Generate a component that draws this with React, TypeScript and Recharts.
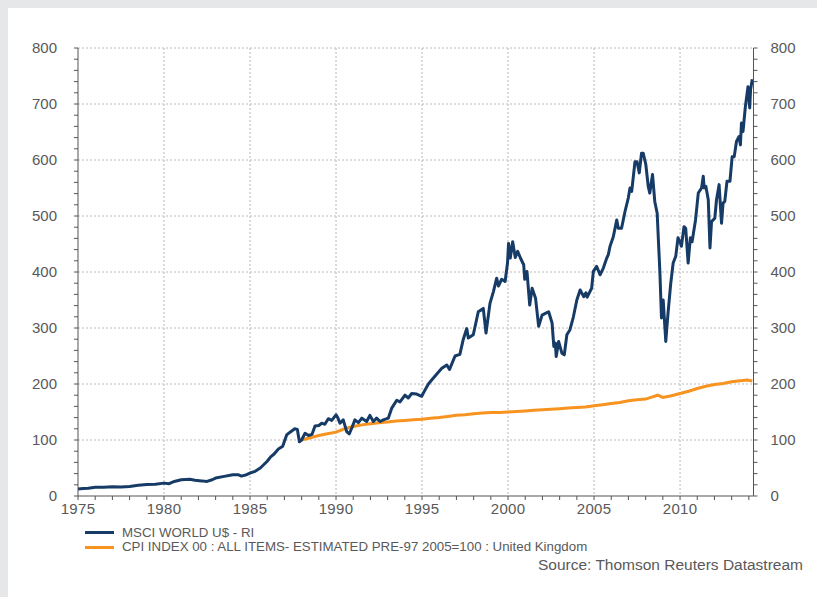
import React from 'react';
import { LineChart, Line, XAxis, YAxis, CartesianGrid } from 'recharts';

const msciYears = [
  1975.0, 1975.3, 1975.6, 1976.0, 1976.5, 1977.0, 1977.5, 1978.0, 1978.5, 1979.0, 1979.5,
  1980.0, 1980.3, 1980.6, 1981.0, 1981.5, 1981.8, 1982.2, 1982.5, 1982.8, 1983.0, 1983.5,
  1984.0, 1984.3, 1984.5, 1984.8, 1985.0, 1985.3, 1985.6, 1986.0, 1986.2, 1986.4, 1986.65,
  1986.9, 1987.13, 1987.33, 1987.6, 1987.75, 1987.87, 1988.0, 1988.2, 1988.4, 1988.6, 1988.78,
  1989.0, 1989.17, 1989.35, 1989.55, 1989.75, 1990.0, 1990.1, 1990.23, 1990.42, 1990.62,
  1990.77, 1990.91, 1991.1, 1991.3, 1991.5, 1991.78, 1991.97, 1992.17, 1992.36, 1992.56,
  1992.75, 1993.04, 1993.24, 1993.53, 1993.72, 1994.01, 1994.2, 1994.4, 1994.69, 1994.98,
  1995.17, 1995.37, 1995.56, 1995.86, 1996.15, 1996.44, 1996.6, 1996.92, 1997.2, 1997.4,
  1997.6, 1997.69, 1997.98, 1998.27, 1998.56, 1998.72, 1998.95, 1999.15, 1999.34, 1999.44,
  1999.63, 1999.83, 1999.97, 2000.03, 2000.13, 2000.27, 2000.42, 2000.56, 2000.72, 2000.91,
  2000.97, 2001.1, 2001.26, 2001.4, 2001.6, 2001.78, 2001.98, 2002.17, 2002.36, 2002.56,
  2002.66, 2002.75, 2002.8, 2002.94, 2003.13, 2003.27, 2003.42, 2003.6, 2003.8, 2004.0,
  2004.19, 2004.4, 2004.53, 2004.6, 2004.86, 2004.96, 2005.15, 2005.35, 2005.54, 2005.74,
  2005.83, 2005.93, 2006.12, 2006.32, 2006.41, 2006.6, 2006.8, 2006.99, 2007.09, 2007.19,
  2007.38, 2007.5, 2007.63, 2007.76, 2007.86, 2008.01, 2008.15, 2008.24, 2008.4, 2008.53,
  2008.67, 2008.83, 2008.92, 2009.02, 2009.17, 2009.3, 2009.46, 2009.6, 2009.75, 2009.88,
  2010.0, 2010.08, 2010.23, 2010.33, 2010.47, 2010.6, 2010.7, 2010.9, 2011.06, 2011.25,
  2011.35, 2011.4, 2011.5, 2011.64, 2011.74, 2011.83, 2012.02, 2012.12, 2012.27, 2012.41,
  2012.5, 2012.6, 2012.73, 2012.9, 2013.03, 2013.15, 2013.28, 2013.43, 2013.51, 2013.57,
  2013.66, 2013.8, 2013.95, 2014.05, 2014.1, 2014.2,
];

const msciValues = [
  12.5, 13.5, 14, 15.5, 15.5, 16.5, 16, 17, 19, 20.5, 21,
  23, 22, 26, 29, 30, 28, 27, 26, 29, 32, 35,
  38, 38, 35.5, 38, 41, 44, 50, 62, 70, 75, 84,
  89, 109, 114, 120, 119, 97, 100, 112, 108, 110, 125,
  126, 130, 128, 138, 135, 145, 140, 130, 136, 115,
  111, 121, 136, 131, 139, 133, 144, 133, 139, 133,
  136, 139, 157, 171, 168, 180, 175, 183, 182, 178,
  189, 200, 207, 218, 228, 234, 226, 250, 253, 280,
  299, 282, 288, 329, 335, 291, 344, 365, 389, 375,
  387, 383, 416, 451, 425, 454, 426, 437, 425, 413,
  387, 401, 341, 371, 353, 303, 323, 326, 329, 309,
  267, 273, 249, 276, 255, 252, 288, 297, 320, 350,
  368, 356, 363, 355, 371, 401, 410, 395, 407, 425,
  431, 446, 463, 493, 478, 478, 508, 532, 550, 544,
  597, 597, 577, 612, 612, 592, 553, 541, 574, 526,
  505, 398, 318, 350, 276, 326, 380, 416, 428, 461,
  454, 446, 481, 478, 416, 461, 454, 493, 541, 550,
  571, 550, 553, 529, 443, 490, 496, 529, 556, 487,
  523, 526, 562, 562, 606, 606, 633, 642, 627, 666,
  651, 696, 731, 693, 726, 744,
];

const cpiYears = [
  1988.0, 1988.5, 1989.0, 1989.5, 1990.0, 1990.5, 1991.0, 1991.5, 1992.0, 1992.5,
  1993.0, 1993.5, 1994.0, 1994.5, 1995.0, 1995.5, 1996.0, 1996.5, 1997.0, 1997.5,
  1998.0, 1998.5, 1999.0, 1999.5, 2000.0, 2000.5, 2001.0, 2001.5, 2002.0, 2002.5,
  2003.0, 2003.5, 2004.0, 2004.5, 2005.0, 2005.5, 2006.0, 2006.5, 2007.0, 2007.5,
  2008.0, 2008.4, 2008.7, 2009.0, 2009.5, 2010.0, 2010.5, 2011.0, 2011.5, 2012.0,
  2012.5, 2013.0, 2013.5, 2013.9, 2014.2,
];

const cpiValues = [
  100, 104, 108, 111, 114, 120, 124, 127, 129, 131,
  132, 134, 135, 136, 137, 139, 140, 142, 144, 145,
  147, 148, 149, 149, 150, 151, 152, 153, 154, 155,
  156, 157, 158, 159, 161, 163, 165, 167, 170, 172,
  173, 177, 180, 176, 179, 183, 187, 192, 196, 199,
  201, 204, 206, 207, 205.5,
];

const majorYears = [1975, 1980, 1985, 1990, 1995, 2000, 2005, 2010];
const gridYears = [1980, 1985, 1990, 1995, 2000, 2005, 2010];
const majorValues = [0, 100, 200, 300, 400, 500, 600, 700, 800];
const gridValues = [100, 200, 300, 400, 500, 600, 700, 800];

const seriesNames = [
  'MSCI WORLD U$ - RI',
  'CPI INDEX 00 : ALL ITEMS- ESTIMATED PRE-97 2005=100 : United Kingdom',
];
const sourceText = 'Source: Thomson Reuters Datastream';

const NAVY = '#163b67';
const ORANGE = '#f7931e';
const TEXT = '#595959';
const AXIS = '#555555';
const FONT = '"Liberation Sans", Arial, sans-serif';

const yearTicks: number[] = [];
for (let y = 1975; y <= 2014; y++) yearTicks.push(y);
const valueTicks: number[] = [];
for (let v = 0; v <= 800; v += 20) valueTicks.push(v);

const msciData = msciYears.map((t, i) => ({ t, v: msciValues[i] }));
const cpiData = cpiYears.map((t, i) => ({ t, v: cpiValues[i] }));

const fmtYear = (y: number) => (majorYears.includes(y) ? String(y) : '');
const fmtVal = (v: number) => (majorValues.includes(v) ? String(v) : '');

export default function App() {
  return (
    <div
      style={{
        position: 'absolute',
        left: 0,
        top: 0,
        width: 817,
        height: 597,
        background: '#e6e7e9',
        fontFamily: FONT,
        overflow: 'hidden',
      }}
    >
      <div style={{ position: 'absolute', left: 8, top: 8, width: 809, height: 589, background: '#ffffff' }} />
      <div style={{ position: 'absolute', left: 0, top: 0 }}>
        <LineChart width={817} height={597} margin={{ top: 48, right: 23.5, bottom: 71, left: 38 }}>
          <CartesianGrid
            yAxisId="left"
            horizontalValues={gridValues}
            verticalValues={gridYears}
            stroke="#b8b8b8"
            strokeDasharray="2 2"
          />
          <XAxis
            dataKey="t"
            type="number"
            domain={[1975, 2014.27]}
            allowDataOverflow
            ticks={yearTicks}
            interval={0}
            tickFormatter={fmtYear}
            tickSize={4}
            tickMargin={3}
            height={30}
            stroke={AXIS}
            tick={{ fill: TEXT, fontSize: 15, fontFamily: FONT, letterSpacing: 0.3 }}
          />
          <YAxis
            yAxisId="left"
            orientation="left"
            type="number"
            domain={[0, 800]}
            ticks={valueTicks}
            interval={0}
            tickFormatter={fmtVal}
            tickSize={4}
            tickMargin={17}
            width={40}
            stroke={AXIS}
            tick={{ fill: TEXT, fontSize: 15, fontFamily: FONT }}
          />
          <YAxis
            yAxisId="right"
            orientation="right"
            type="number"
            domain={[0, 800]}
            ticks={valueTicks}
            interval={0}
            tickFormatter={fmtVal}
            tickSize={4}
            tickMargin={13}
            width={40}
            stroke={AXIS}
            tick={{ fill: TEXT, fontSize: 15, fontFamily: FONT, textAnchor: 'start' }}
          />
          <Line
            yAxisId="right"
            data={msciData}
            dataKey="v"
            stroke="none"
            strokeOpacity={0}
            dot={false}
            activeDot={false}
            isAnimationActive={false}
            legendType="none"
          />
          <Line
            yAxisId="left"
            data={cpiData}
            dataKey="v"
            name={seriesNames[1]}
            type="linear"
            stroke={ORANGE}
            strokeWidth={3}
            dot={false}
            isAnimationActive={false}
          />
          <Line
            yAxisId="left"
            data={msciData}
            dataKey="v"
            name={seriesNames[0]}
            type="linear"
            stroke={NAVY}
            strokeWidth={3}
            strokeLinejoin="round"
            dot={false}
            isAnimationActive={false}
          />
        </LineChart>
      </div>
      <div style={{ position: 'absolute', left: 85, top: 531, width: 29, height: 3, background: NAVY }} />
      <div
        style={{
          position: 'absolute', left: 122, top: 524.5, fontSize: 13.3, lineHeight: '15px', color: TEXT, whiteSpace: 'nowrap',
        }}
      >
        {seriesNames[0]}
      </div>
      <div style={{ position: 'absolute', left: 85, top: 545.5, width: 29, height: 3, background: ORANGE }} />
      <div
        style={{
          position: 'absolute', left: 122, top: 539, fontSize: 13.3, lineHeight: '15px', color: TEXT, whiteSpace: 'nowrap',
        }}
      >
        {seriesNames[1]}
      </div>
      <div
        style={{
          position: 'absolute', right: 14, top: 555.5, fontSize: 15.5, lineHeight: '17px', color: TEXT, whiteSpace: 'nowrap',
        }}
      >
        {sourceText}
      </div>
    </div>
  );
}
